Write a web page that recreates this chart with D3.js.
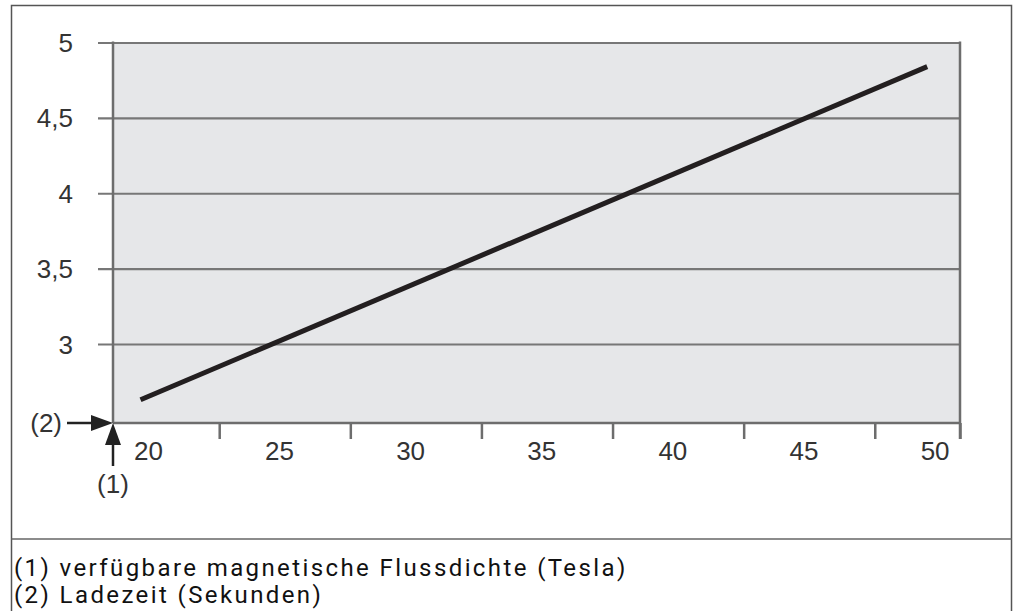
<!DOCTYPE html>
<html>
<head>
<meta charset="utf-8">
<script src="https://cdn.jsdelivr.net/npm/d3@7"></script>
<style>
  body { margin: 0; background: #fff; }
  svg { display: block; }
</style>
</head>
<body>
<script>
var w = 1013;
var h = 611;

// data
var yTicks = [3, 3.5, 4, 4.5, 5];
var yLabels = ['3', '3,5', '4', '4,5', '5'];
var xLabels = [20, 25, 30, 35, 40, 45, 50];
var xTickMarks = [22.7, 27.7, 32.7, 37.7, 42.7, 47.7, 50.95];
var lineX = [19.7, 49.7];
var lineY = [2.63, 4.84];
var legend = ['(1) verfügbare magnetische Flussdichte (Tesla)', '(2) Ladezeit (Sekunden)'];

var plot = { left: 113, right: 960, top: 42.5, bottom: 423 };

var x = d3.scaleLinear().domain([18.65, 50.95]).range([plot.left, plot.right]);
var y = d3.scaleLinear().domain([2.476, 5]).range([plot.bottom, plot.top]);

var svg = d3.select('body').append('svg').attr('width', w).attr('height', h);

// outer frame + separator
svg.append('rect')
  .attr('x', 11.5).attr('y', 5.5)
  .attr('width', 1000).attr('height', 640)
  .style('fill', 'none')
  .style('stroke', '#555')
  .style('stroke-width', 1.5);

svg.append('line')
  .attr('x1', 11.5).attr('x2', 1012)
  .attr('y1', 539).attr('y2', 539)
  .style('stroke', '#666')
  .style('stroke-width', 1.5);

// plot background
svg.append('rect')
  .attr('x', plot.left).attr('y', plot.top)
  .attr('width', plot.right - plot.left)
  .attr('height', plot.bottom - plot.top)
  .style('fill', '#e6e7e9');

// y axis: gridlines with small tick to the left
var yAxis = d3.axisLeft(y)
  .tickValues(yTicks)
  .tickSize(-(plot.right - plot.left))
  .tickFormat(function (d, i) { return yLabels[i]; });

var gy = svg.append('g')
  .attr('transform', 'translate(' + plot.left + ',0)')
  .call(yAxis);
gy.select('.domain').remove();
gy.selectAll('.tick line')
  .attr('x2', plot.right - plot.left)
  .attr('x1', -15)
  .style('stroke', '#777')
  .style('stroke-width', 2.2);
gy.selectAll('.tick text')
  .attr('x', -40)
  .attr('dy', '0.35em')
  .style('font-family', '"Liberation Sans", Arial, sans-serif')
  .style('font-size', '26px')
  .style('fill', '#333');

// x axis: ticks and labels are offset from each other
var xAxis = d3.axisBottom(x)
  .tickValues(xTickMarks)
  .tickSize(16)
  .tickFormat('');
var gx = svg.append('g')
  .attr('transform', 'translate(0,' + plot.bottom + ')')
  .call(xAxis);
gx.select('.domain').remove();
gx.selectAll('.tick line')
  .style('stroke', '#6d6d6d')
  .style('stroke-width', 2.5);

svg.append('g').selectAll('text')
  .data(xLabels)
  .enter()
  .append('text')
  .attr('x', function (d) { return x(d); })
  .attr('y', plot.bottom + 37)
  .attr('text-anchor', 'middle')
  .style('font-family', '"Liberation Sans", Arial, sans-serif')
  .style('font-size', '26px')
  .style('fill', '#333')
  .text(function (d) { return d; });

// plot frame lines
svg.append('line')
  .attr('x1', plot.left).attr('x2', plot.right)
  .attr('y1', plot.bottom).attr('y2', plot.bottom)
  .style('stroke', '#6d6d6d').style('stroke-width', 2.5);
svg.append('line')
  .attr('x1', plot.left).attr('x2', plot.left)
  .attr('y1', plot.top - 1).attr('y2', plot.bottom)
  .style('stroke', '#6d6d6d').style('stroke-width', 2.5);
svg.append('line')
  .attr('x1', plot.right).attr('x2', plot.right)
  .attr('y1', plot.top - 1).attr('y2', plot.bottom + 16)
  .style('stroke', '#6d6d6d').style('stroke-width', 2.5);

// the curve
var pts = lineX.map(function (d, i) { return [d, lineY[i]]; });
svg.append('path')
  .datum(pts)
  .attr('d', d3.line().x(function (d) { return x(d[0]); }).y(function (d) { return y(d[1]); }))
  .style('fill', 'none')
  .style('stroke', '#231f20')
  .style('stroke-width', 5);

// arrows at origin
var ox = plot.left, oy = plot.bottom;
svg.append('line')
  .attr('x1', 67).attr('x2', ox - 18)
  .attr('y1', oy).attr('y2', oy)
  .style('stroke', '#222').style('stroke-width', 2.5);
svg.append('path')
  .attr('d', 'M' + ox + ',' + oy + 'L' + (ox - 22) + ',' + (oy - 8) + 'L' + (ox - 22) + ',' + (oy + 8) + 'Z')
  .style('fill', '#222');
svg.append('line')
  .attr('x1', ox).attr('x2', ox)
  .attr('y1', oy + 18).attr('y2', oy + 43)
  .style('stroke', '#222').style('stroke-width', 2.5);
svg.append('path')
  .attr('d', 'M' + ox + ',' + oy + 'L' + (ox - 8) + ',' + (oy + 22) + 'L' + (ox + 8) + ',' + (oy + 22) + 'Z')
  .style('fill', '#222');

svg.append('text')
  .attr('x', 62).attr('y', oy + 9)
  .attr('text-anchor', 'end')
  .style('font-family', '"Liberation Sans", Arial, sans-serif')
  .style('font-size', '26px')
  .style('fill', '#333')
  .text('(2)');
svg.append('text')
  .attr('x', ox).attr('y', oy + 70)
  .attr('text-anchor', 'middle')
  .style('font-family', '"Liberation Sans", Arial, sans-serif')
  .style('font-size', '26px')
  .style('fill', '#333')
  .text('(1)');

// legend
svg.append('g').selectAll('text')
  .data(legend)
  .enter()
  .append('text')
  .attr('x', 14)
  .attr('y', function (d, i) { return 576 + i * 27; })
  .style('font-family', 'Roboto, sans-serif')
  .style('font-size', '24px')
  .style('letter-spacing', '2.4px')
  .style('fill', '#111')
  .text(function (d) { return d; });
</script>
</body>
</html>
